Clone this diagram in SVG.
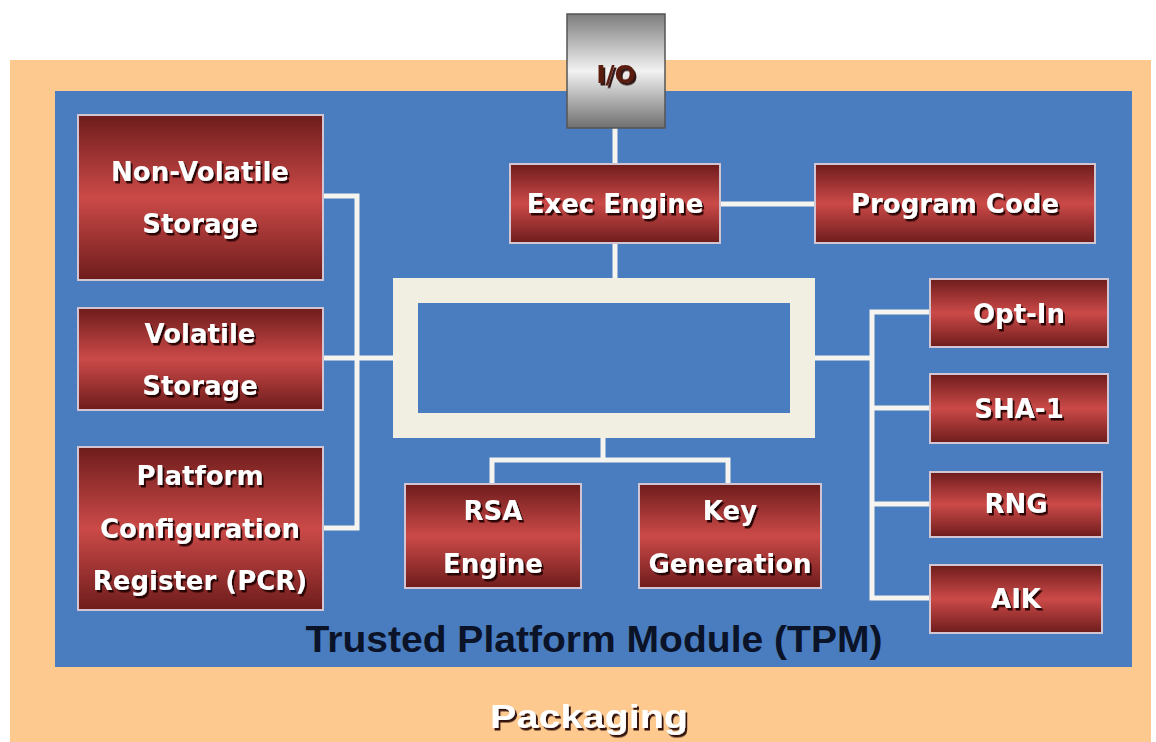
<svg xmlns="http://www.w3.org/2000/svg" width="1156" height="742" viewBox="0 0 1156 742">
<defs>
<linearGradient id="red" x1="0" y1="0" x2="0" y2="1">
<stop offset="0" stop-color="#6e1c1c"/>
<stop offset="0.5" stop-color="#cb4a48"/>
<stop offset="1" stop-color="#6e1c1c"/>
</linearGradient>
<linearGradient id="gray" x1="0" y1="0" x2="0" y2="1">
<stop offset="0" stop-color="#7d7d7d"/>
<stop offset="0.5" stop-color="#f2f2f2"/>
<stop offset="1" stop-color="#6f6f6f"/>
</linearGradient>
<filter id="sh" x="-10%" y="-20%" width="120%" height="150%">
<feDropShadow dx="2" dy="2.5" stdDeviation="0.7" flood-color="#1a0505" flood-opacity="0.9"/>
</filter>
</defs>
<style>
.node{fill:url(#red);stroke:#d2c4d0;stroke-width:2}
.lbl{font-family:"DejaVu Sans",Verdana,sans-serif;font-weight:bold;font-size:26px;fill:#ffffff;text-anchor:middle;filter:url(#sh)}
.conn{stroke:#f6f4ee;stroke-width:5;fill:none}
</style>
<rect x="0" y="0" width="1156" height="742" fill="#ffffff"/>
<g id="packaging">
<rect x="10" y="60" width="1141" height="682" fill="#fec98e"/>
<text x="589" y="728" font-family="Liberation Sans, Arial, sans-serif" font-weight="bold" font-size="34" fill="#ffffff" text-anchor="middle" textLength="198" lengthAdjust="spacingAndGlyphs" filter="url(#sh)">Packaging</text>
</g>
<g id="tpm">
<rect x="55" y="91" width="1077" height="576" fill="#4a7dc0"/>
<text x="594" y="652" font-family="Liberation Sans, Arial, sans-serif" font-weight="bold" font-size="37" fill="#0b1329" text-anchor="middle" textLength="577" lengthAdjust="spacingAndGlyphs">Trusted Platform Module (TPM)</text>
</g>
<g id="connectors">
<line class="conn" x1="615" y1="128" x2="615" y2="164"/>
<line class="conn" x1="720" y1="204" x2="815" y2="204"/>
<line class="conn" x1="615" y1="243" x2="615" y2="278"/>
<polyline class="conn" points="323,196 357,196 357,528 323,528"/>
<line class="conn" x1="323" y1="358" x2="393" y2="358"/>
<polyline class="conn" points="492,483 492,460 728,460 728,483"/>
<line class="conn" x1="603" y1="438" x2="603" y2="460"/>
<line class="conn" x1="815" y1="358" x2="872" y2="358"/>
<polyline class="conn" points="930,312 872,312 872,598 930,598"/>
<line class="conn" x1="872" y1="408" x2="930" y2="408"/>
<line class="conn" x1="872" y1="504" x2="930" y2="504"/>
</g>
<g id="core">
<rect x="405.5" y="290.5" width="397" height="135" fill="none" stroke="#f1eee2" stroke-width="25"/>
</g>
<g id="io">
<rect x="567" y="14" width="98" height="114" fill="url(#gray)" stroke="#555" stroke-width="1.5"/>
<text x="616" y="83" font-family="DejaVu Sans, Verdana, sans-serif" font-weight="bold" font-size="25" fill="#5a1a0e" text-anchor="middle" filter="url(#sh)">I/O</text>
</g>
<g id="exec-engine">
<rect class="node" x="510" y="164" width="210" height="79"/>
<text class="lbl" x="615" y="213">Exec Engine</text>
</g>
<g id="program-code">
<rect class="node" x="815" y="164" width="280" height="79"/>
<text class="lbl" x="955" y="213">Program Code</text>
</g>
<g id="non-volatile-storage">
<rect class="node" x="78" y="115" width="245" height="165"/>
<text class="lbl" x="200" y="181">Non-Volatile</text>
<text class="lbl" x="200" y="233">Storage</text>
</g>
<g id="volatile-storage">
<rect class="node" x="78" y="308" width="245" height="102"/>
<text class="lbl" x="200" y="343">Volatile</text>
<text class="lbl" x="200" y="395">Storage</text>
</g>
<g id="pcr">
<rect class="node" x="78" y="447" width="245" height="163"/>
<text class="lbl" x="200" y="485">Platform</text>
<text class="lbl" x="200" y="538">Configuration</text>
<text class="lbl" x="200" y="590">Register (PCR)</text>
</g>
<g id="rsa-engine">
<rect class="node" x="405" y="484" width="176" height="104"/>
<text class="lbl" x="493" y="520">RSA</text>
<text class="lbl" x="493" y="573">Engine</text>
</g>
<g id="key-generation">
<rect class="node" x="639" y="484" width="182" height="104"/>
<text class="lbl" x="730" y="520">Key</text>
<text class="lbl" x="730" y="573">Generation</text>
</g>
<g id="opt-in">
<rect class="node" x="930" y="279" width="178" height="68"/>
<text class="lbl" x="1019" y="323">Opt-In</text>
</g>
<g id="sha-1">
<rect class="node" x="930" y="374" width="178" height="69"/>
<text class="lbl" x="1019" y="418">SHA-1</text>
</g>
<g id="rng">
<rect class="node" x="930" y="472" width="172" height="65"/>
<text class="lbl" x="1016" y="513">RNG</text>
</g>
<g id="aik">
<rect class="node" x="930" y="565" width="172" height="68"/>
<text class="lbl" x="1016" y="608">AIK</text>
</g>
</svg>
